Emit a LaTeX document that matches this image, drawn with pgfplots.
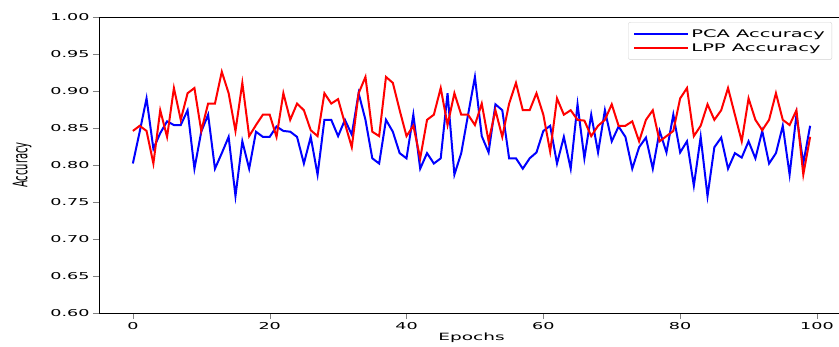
\documentclass[border=0pt]{standalone}
\usepackage{fontspec}
\setmainfont[FakeStretch=1.85]{DejaVu Sans}
\newfontfamily\plainfont{DejaVu Sans}
\usepackage{pgfplots}
\pgfplotsset{compat=1.18}
\usepackage{pgfplotstable}
\pgfplotstableread{
x y
0 0.802
1 0.845
2 0.890
3 0.822
4 0.843
5 0.859
6 0.854
7 0.854
8 0.874
9 0.795
10 0.845
11 0.868
12 0.795
13 0.816
14 0.838
15 0.758
16 0.832
17 0.795
18 0.845
19 0.838
20 0.838
21 0.852
22 0.846
23 0.845
24 0.838
25 0.802
26 0.838
27 0.787
28 0.861
29 0.861
30 0.839
31 0.861
32 0.841
33 0.897
34 0.861
35 0.809
36 0.802
37 0.861
38 0.845
39 0.816
40 0.809
41 0.868
42 0.795
43 0.816
44 0.802
45 0.809
46 0.897
47 0.787
48 0.816
49 0.868
50 0.919
51 0.839
52 0.817
53 0.882
54 0.874
55 0.809
56 0.809
57 0.795
58 0.809
59 0.817
60 0.846
61 0.853
62 0.802
63 0.838
64 0.795
65 0.882
66 0.809
67 0.868
68 0.817
69 0.874
70 0.832
71 0.852
72 0.838
73 0.795
74 0.824
75 0.837
76 0.795
77 0.846
78 0.817
79 0.868
80 0.817
81 0.832
82 0.772
83 0.838
84 0.758
85 0.824
86 0.837
87 0.795
88 0.816
89 0.810
90 0.832
91 0.809
92 0.846
93 0.802
94 0.816
95 0.853
96 0.787
97 0.868
98 0.802
99 0.853
}\pca
\pgfplotstableread{
x y
0 0.846
1 0.853
2 0.846
3 0.802
4 0.874
5 0.838
6 0.904
7 0.861
8 0.897
9 0.904
10 0.846
11 0.883
12 0.883
13 0.926
14 0.897
15 0.846
16 0.911
17 0.839
18 0.854
19 0.868
20 0.868
21 0.838
22 0.897
23 0.861
24 0.883
25 0.874
26 0.847
27 0.839
28 0.897
29 0.883
30 0.889
31 0.856
32 0.824
33 0.897
34 0.919
35 0.845
36 0.839
37 0.919
38 0.911
39 0.874
40 0.839
41 0.853
42 0.809
43 0.861
44 0.868
45 0.904
46 0.854
47 0.897
48 0.868
49 0.868
50 0.854
51 0.883
52 0.832
53 0.874
54 0.838
55 0.883
56 0.911
57 0.874
58 0.874
59 0.897
60 0.868
61 0.818
62 0.890
63 0.868
64 0.874
65 0.861
66 0.860
67 0.839
68 0.853
69 0.861
70 0.882
71 0.853
72 0.853
73 0.859
74 0.832
75 0.861
76 0.874
77 0.832
78 0.839
79 0.846
80 0.890
81 0.904
82 0.839
83 0.853
84 0.882
85 0.861
86 0.874
87 0.904
88 0.868
89 0.832
90 0.890
91 0.861
92 0.847
93 0.861
94 0.897
95 0.861
96 0.854
97 0.874
98 0.787
99 0.838
}\lpp
\begin{document}
\begin{tikzpicture}
\begin{axis}[
  name=ax,
  scale only axis,
  width=745pt, height=296pt,
  xmin=-4.95, xmax=103.95,
  ymin=0.6, ymax=1.0,
  xtick={0,20,40,60,80,100},
  ytick={0.60,0.65,0.70,0.75,0.80,0.85,0.90,0.95,1.00},
  yticklabel style={/pgf/number format/.cd, fixed, fixed zerofill, precision=2},
  /pgf/number format/assume math mode=true,
  tick label style={font=\fontsize{9.5}{10}\selectfont},
  xtick pos=bottom, ytick pos=left,
  tick align=outside,
  major tick length=6pt,
  axis line style={black, line width=0.9pt},
  xlabel={Epochs},
  xlabel style={font=\fontsize{10}{11}\selectfont, yshift=4pt},
  ylabel={\scalebox{1}[2.0]{\plainfont\fontsize{10}{11}\selectfont Accuracy}},
  ylabel style={yshift=12pt},
  legend style={at={(0.984,0.983)}, anchor=north east, draw=gray!35, rounded corners=2pt,
    font=\fontsize{10.5}{13}\selectfont, inner xsep=5pt, inner ysep=5pt, row sep=1pt},
  legend cell align=left,
  legend image code/.code={\draw[#1, line width=1.2pt] (0pt,0pt) -- (44pt,0pt); \path (0pt,0pt) -- (54pt,0pt);},
]
\addplot[blue, line width=2pt] table[x=x, y=y] {\pca};
\addlegendentry{PCA Accuracy}
\addplot[red, line width=2pt] table[x=x, y=y] {\lpp};
\addlegendentry{LPP Accuracy}
\end{axis}
\pgfresetboundingbox
\path[use as bounding box] ([shift={(-99pt,-34pt)}]ax.south west) rectangle ([shift={(740pt,17pt)}]ax.north west);
\end{tikzpicture}
\end{document}
